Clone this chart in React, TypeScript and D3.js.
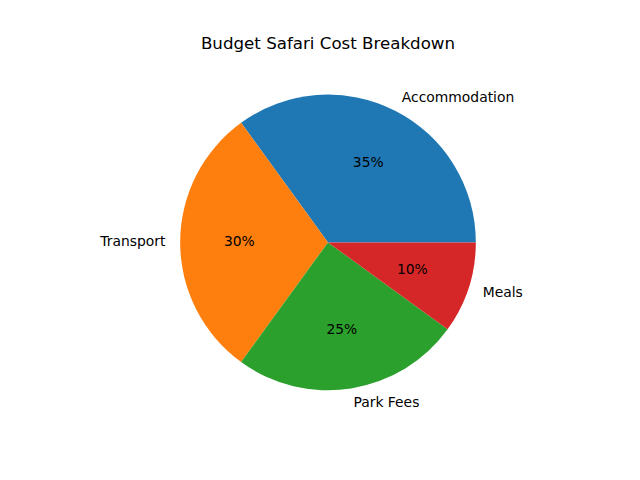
import React from "react";
import * as d3 from "d3";

const categories = ["Accommodation", "Transport", "Park Fees", "Meals"];
const shares = [35, 30, 25, 10];
const colors = ["#1f77b4", "#ff7f0e", "#2ca02c", "#d62728"];
const title = "Budget Safari Cost Breakdown";

export default function App() {
  const W = 640, H = 480;
  const cx = 328, cy = 242.4;
  const r = 147.84;
  const dy = -1;
  const pie = d3
    .pie<number>()
    .sort(null)
    .startAngle(Math.PI / 2)
    .endAngle(Math.PI / 2 - 2 * Math.PI);
  const arcs = pie(shares);
  const arc = d3.arc<d3.PieArcDatum<number>>().innerRadius(0).outerRadius(r);
  const labelArc = d3.arc<d3.PieArcDatum<number>>().innerRadius(r * 1.1).outerRadius(r * 1.1);
  const pctArc = d3.arc<d3.PieArcDatum<number>>().innerRadius(r * 0.6).outerRadius(r * 0.6);
  const total = d3.sum(shares);
  const font = "DejaVu Sans, sans-serif";
  return (
    <svg width={W} height={H} style={{ position: "absolute", left: 0, top: 0, background: "#fff" }}>
      <text x={cx} y={48.5} textAnchor="middle" fontFamily={font} fontSize={16.67}>
        {title}
      </text>
      <g transform={`translate(${cx},${cy})`}>
        {arcs.map((a, i) => (
          <path key={i} d={arc(a) || ""} fill={colors[i]} />
        ))}
        {arcs.map((a, i) => {
          const [lx, ly] = labelArc.centroid(a);
          return (
            <text
              key={"l" + i}
              x={lx}
              y={ly + dy}
              textAnchor={lx > 0 ? "start" : "end"}
              dominantBaseline="central"
              fontFamily={font}
              fontSize={13.89}
            >
              {categories[i]}
            </text>
          );
        })}
        {arcs.map((a, i) => {
          const [px, py] = pctArc.centroid(a);
          return (
            <text
              key={"p" + i}
              x={px}
              y={py + dy}
              textAnchor="middle"
              dominantBaseline="central"
              fontFamily={font}
              fontSize={13.89}
            >
              {`${((shares[i] / total) * 100).toFixed(0)}%`}
            </text>
          );
        })}
      </g>
    </svg>
  );
}
